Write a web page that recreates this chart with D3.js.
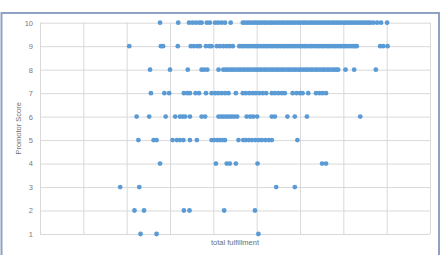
<!DOCTYPE html>
<html>
<head>
<meta charset="utf-8">
<script src="https://cdn.jsdelivr.net/npm/d3@7"></script>
<style>
  html, body { margin: 0; padding: 0; background: #fff; }
  svg { display: block; }
</style>
</head>
<body>
<svg id="chart" width="442" height="255"></svg>
<script>
// ---- data (total fulfillment values per promotor score) ----
const yTicks = [1, 2, 3, 4, 5, 6, 7, 8, 9, 10];
const xGrid = [0, 10, 20, 30, 40, 50, 60, 70, 80, 90];

const score10 = [27.7, 31.9, 34.4, 35.2, 36.0, 36.8, 37.3, 38.5, 39.2, 40.4, 41.1, 41.9, 42.7, 44.0,
  46.8, 47.3, 47.9, 48.4, 49.0, 49.6, 50.1, 50.7, 51.2, 51.8, 52.3, 52.9, 53.4, 54.0, 54.6, 55.1,
  55.7, 56.2, 56.8, 57.3, 57.9, 58.5, 59.0, 59.6, 60.1, 60.7, 61.2, 61.8, 62.4, 62.9, 63.5, 64.0,
  64.6, 65.1, 65.7, 66.3, 66.8, 67.4, 67.9, 68.5, 69.0, 69.6, 70.2, 70.7, 71.3, 71.8, 72.4, 72.9,
  73.5, 74.1, 74.6, 75.2, 75.7, 76.2, 76.9, 77.8, 78.7, 80.1];
const score9 = [20.6, 27.9, 28.4, 31.8, 34.8, 35.5, 36.3, 36.9, 38.3, 39.1, 39.6, 40.8, 41.5, 42.3,
  43.1, 43.8, 44.5, 46.0, 46.6, 47.1, 47.7, 48.2, 48.8, 49.4, 49.9, 50.5, 51.0, 51.6, 52.2, 52.7,
  53.3, 53.8, 54.4, 54.9, 55.5, 56.1, 56.6, 57.2, 57.7, 58.3, 58.8, 59.4, 60.0, 60.5, 61.1, 61.6,
  62.2, 62.7, 63.3, 63.9, 64.4, 65.0, 65.5, 66.1, 66.6, 67.2, 67.8, 68.3, 68.9, 69.4, 70.0, 70.5,
  71.1, 71.7, 72.2, 72.7, 73.1, 78.5, 79.2, 80.2];
const score8 = [25.4, 30.0, 34.1, 37.3, 37.9, 38.6, 41.2, 42.3, 42.9, 43.4, 44.0, 44.5, 45.1, 45.7,
  46.2, 46.8, 47.3, 47.9, 48.4, 49.0, 49.6, 50.1, 50.7, 51.2, 51.8, 52.3, 52.9, 53.5, 54.0, 54.6,
  55.1, 55.7, 56.2, 56.8, 57.4, 57.9, 58.5, 59.0, 59.6, 60.1, 60.7, 61.3, 61.8, 62.4, 62.9, 63.5,
  64.0, 64.6, 65.2, 65.7, 66.3, 66.8, 67.4, 67.9, 68.4, 68.8, 70.5, 72.5, 77.5];
const score7 = [25.6, 28.7, 29.8, 33.2, 34.0, 34.6, 35.9, 36.7, 38.3, 39.6, 40.4, 41.1, 41.9, 42.7,
  43.5, 45.2, 46.8, 47.5, 48.3, 49.1, 49.8, 50.6, 51.4, 52.2, 53.5, 54.2, 55.0, 55.8, 56.5, 58.3,
  59.2, 60.0, 60.6, 61.9, 63.7, 64.5, 65.2, 66.0];
const score6 = [22.3, 25.2, 29.0, 31.2, 32.3, 32.9, 33.5, 34.6, 37.3, 38.1, 41.2, 41.8, 42.4, 43.0,
  43.6, 44.2, 44.8, 45.5, 47.7, 48.5, 49.2, 50.1, 53.5, 54.2, 57.1, 58.8, 61.6, 73.9];
const score5 = [22.7, 26.2, 26.9, 30.6, 31.6, 32.3, 33.1, 34.6, 36.2, 39.6, 40.2, 40.9, 41.5, 42.1,
  42.7, 45.8, 46.9, 47.5, 48.2, 48.9, 49.7, 50.5, 51.2, 52.0, 52.8, 53.5, 59.4];
const score4 = [27.7, 40.6, 43.1, 43.8, 45.2, 50.2, 65.1, 66.0];
const score3 = [18.5, 22.9, 54.5, 58.8];
const score2 = [21.8, 24.0, 33.2, 34.5, 42.5, 49.6];
const score1 = [23.2, 26.9, 50.4];

const scoreRows = [
  [1, score1], [2, score2], [3, score3], [4, score4], [5, score5],
  [6, score6], [7, score7], [8, score8], [9, score9], [10, score10]
];
const points = [];
scoreRows.forEach(([s, arr]) => arr.forEach(v => points.push({ x: v, y: s })));

// ---- drawing ----
const svg = d3.select("#chart");
const font = "'Liberation Sans', Arial, sans-serif";

// outer chart frame
svg.append("rect")
  .attr("x", 1.5).attr("y", 13).attr("width", 437.5).attr("height", 260)
  .attr("fill", "#fff").attr("stroke", "#8FA2C2").attr("stroke-width", 2);

const x = d3.scaleLinear().domain([0, 90]).range([40, 430]);
const y = d3.scaleLinear().domain([1, 10]).range([234, 22.7]);

// horizontal gridlines + y labels via axis
const yAxis = d3.axisLeft(y).tickValues(yTicks).tickSize(-(430 - 40)).tickPadding(7)
  .tickFormat(d3.format("d"));
const gy = svg.append("g").attr("transform", "translate(40,0)").call(yAxis);
gy.select(".domain").remove();
gy.selectAll(".tick line").attr("stroke", "#D9D9D9").attr("stroke-width", 1);
gy.selectAll(".tick text").attr("fill", "#7a7a7a").attr("font-size", 7.5)
  .attr("font-family", font);

// vertical gridlines via axis (no labels)
const xAxis = d3.axisBottom(x).tickValues(xGrid).tickSize(-(234 - 22.7)).tickFormat("");
const gx = svg.append("g").attr("transform", "translate(0,234)").call(xAxis);
gx.select(".domain").remove();
gx.selectAll(".tick line").attr("stroke", "#D9D9D9").attr("stroke-width", 1);

// points
svg.append("g").selectAll("circle").data(points).join("circle")
  .attr("cx", d => x(d.x)).attr("cy", d => y(d.y)).attr("r", 2.4)
  .attr("fill", "#5B9BD5");

// axis titles
svg.append("text")
  .attr("transform", "translate(21," + ((22.7 + 234) / 2) + ") rotate(-90)")
  .attr("text-anchor", "middle")
  .attr("font-family", font).attr("font-size", 7.5).attr("fill", "#6f6f6f")
  .text("Promotor Score");

svg.append("text")
  .attr("x", 235).attr("y", 245)
  .attr("text-anchor", "middle")
  .attr("font-family", font).attr("font-size", 7.5).attr("fill", "#6f6f6f")
  .text("total fulfillment");
</script>
</body>
</html>
